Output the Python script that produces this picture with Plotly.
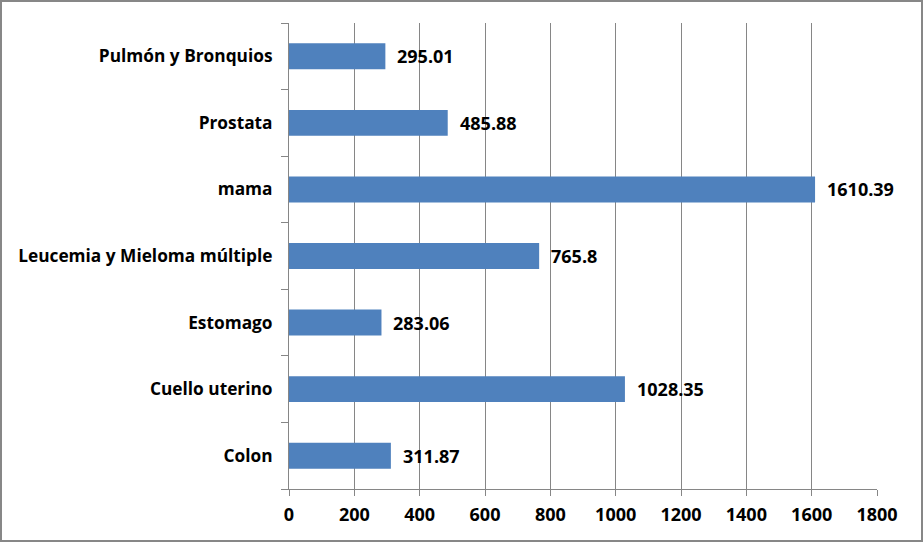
import plotly.graph_objects as go

categories = ["Colon", "Cuello uterino", "Estomago", "Leucemia y Mieloma múltiple",
              "mama", "Prostata", "Pulmón y Bronquios"]
values = [311.87, 1028.35, 283.06, 765.8, 1610.39, 485.88, 295.01]
x_ticks = [0, 200, 400, 600, 800, 1000, 1200, 1400, 1600, 1800]

W, H = 923, 542
ml, mr, mt, mb = 289, 46, 23, 53
pw, ph = W - ml - mr, H - mt - mb

FAM = "'Open Sans', Lato, sans-serif"
cat_font = dict(family=FAM, size=17.3, color="black", weight="bold")
num_font = dict(family=FAM, size=18, color="black", weight="bold")

fig = go.Figure(go.Bar(
    x=values, y=categories, orientation="h",
    marker=dict(color="#4F81BD", line=dict(width=0)),
    hoverinfo="x+y",
))

annotations = [
    dict(x=v, y=c, xref="x", yref="y", text=str(v), showarrow=False,
         xanchor="left", yanchor="middle", xshift=10, font=num_font)
    for c, v in zip(categories, values)
]

fig.update_layout(
    width=W, height=H,
    margin=dict(l=ml, r=mr, t=mt, b=mb),
    paper_bgcolor="white", plot_bgcolor="white",
    bargap=0.61, showlegend=False,
    font=dict(family=FAM, size=17, color="black"),
    xaxis=dict(range=[0, 1800], tickvals=x_ticks, ticktext=[str(t) for t in x_ticks],
               showgrid=True, gridcolor="#868686", gridwidth=1,
               showline=True, linecolor="#868686", linewidth=1,
               ticks="outside", ticklen=6, tickcolor="#868686",
               tickfont=num_font, ticklabelstandoff=3, zeroline=False, fixedrange=True),
    yaxis=dict(categoryorder="array", categoryarray=categories,
               showgrid=False, showline=True, linecolor="#868686", linewidth=1,
               ticks="outside", ticklen=7, tickcolor="#868686", tickson="boundaries",
               tickfont=cat_font, ticklabelstandoff=12, fixedrange=True),
    annotations=annotations,
    shapes=[dict(type="rect", xref="paper", yref="paper",
                 x0=-(ml - 1) / pw, x1=1 + (mr - 1) / pw,
                 y0=-(mb - 1) / ph, y1=1 + (mt - 1) / ph,
                 line=dict(color="#878787", width=2), layer="above")],
)

fig.write_html("out.html", config=dict(displayModeBar=False),
               post_script="document.body.style.margin='0';document.body.style.overflow='hidden';")
